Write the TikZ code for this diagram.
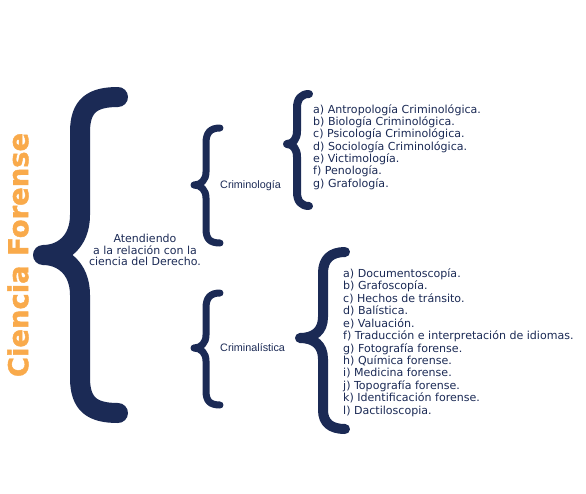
\documentclass[tikz,border=0pt]{standalone}
\usepackage{fontspec}
\setmainfont{DejaVu Sans}
\newfontfamily\arialfont{Liberation Sans}
\newfontfamily\titlefont{DejaVu Sans}[BoldFeatures={FakeBold=1.6}]
\definecolor{navy}{HTML}{1B2A55}
\definecolor{forenseorange}{HTML}{F9AA4B}
\tikzset{
  bracepath/.style={draw=navy, line cap=round, line join=round},
  listtext/.style={text=navy, font=\fontsize{11.05}{13}\selectfont, inner sep=0pt, anchor=base west},
  branchtext/.style={text=navy, font=\arialfont\fontsize{10.8}{13}\selectfont, inner sep=0pt, anchor=west},
}
\begin{document}
\begin{tikzpicture}[x=1pt,y=-1pt]
\useasboundingbox (0,0) rectangle (586,493);

% title
\node[rotate=90, text=forenseorange, inner sep=0pt,
      font=\titlefont\bfseries\fontsize{27.4}{30}\selectfont] (title) at (18,255) {Ciencia Forense};

% main brace
\draw[bracepath, line width=20pt]
  (118,97) .. controls (93,97) and (80,105) .. (80,132) -- (80,215)
  .. controls (80,242) and (62,255) .. (43,255)
  .. controls (62,255) and (80,268) .. (80,295) -- (80,378)
  .. controls (80,405) and (93,413) .. (118,413);

\node[text=navy, font=\fontsize{11}{11.7}\selectfont, align=center, inner sep=0pt] (relacion) at (145,250)
  {Atendiendo\\a la relación con la\\ciencia del Derecho.};

% branch braces
\draw[bracepath, line width=7pt]
  (220,128) .. controls (210,128) and (206,133) .. (206,143) -- (206,172)
  .. controls (206,180) and (201,185) .. (194,185)
  .. controls (201,185) and (206,190) .. (206,198) -- (206,229)
  .. controls (206,239) and (210,243) .. (220,243);
\node[branchtext] (criminologia) at (220,186) {Criminología};

\draw[bracepath, line width=7pt]
  (220,293) .. controls (210,293) and (206,298) .. (206,308) -- (206,335)
  .. controls (206,343) and (201,348) .. (194,348)
  .. controls (201,348) and (206,353) .. (206,361) -- (206,391)
  .. controls (206,401) and (210,405) .. (220,405);
\node[branchtext] (criminalistica) at (220,348) {Criminalística};

% Criminología list
\draw[bracepath, line width=8pt]
  (309,94) .. controls (301,94) and (297,99) .. (297,108) -- (297,131)
  .. controls (297,139) and (293,144) .. (287,144)
  .. controls (293,144) and (297,149) .. (297,157) -- (297,192)
  .. controls (297,201) and (301,206) .. (309,206);
\foreach \item [count=\i from 0] in {
  a) Antropología Criminológica.,
  b) Biología Criminológica.,
  c) Psicología Criminológica.,
  d) Sociología Criminológica.,
  e) Victimología.,
  f) Penología.,
  g) Grafología.}
  \node[listtext] (criminologia-\i) at (313,113.3+12.3*\i) {\item};

% Criminalística list
\draw[bracepath, line width=10pt]
  (345,252) .. controls (331,252) and (323,259) .. (323,273) -- (323,317)
  .. controls (323,331) and (314,338) .. (300,338)
  .. controls (314,338) and (323,345) .. (323,359) -- (323,410)
  .. controls (323,423) and (331,429) .. (345,429);
\foreach \item [count=\i from 0] in {
  a) Documentoscopía.,
  b) Grafoscopía.,
  c) Hechos de tránsito.,
  d) Balística.,
  e) Valuación.,
  f) Traducción e interpretación de idiomas.,
  g) Fotografía forense.,
  h) Química forense.,
  i) Medicina forense.,
  j) Topografía forense.,
  k) Identificación forense.,
  l) Dactiloscopia.}
  \node[listtext] (criminalistica-\i) at (343,277.3+12.45*\i) {\item};
\end{tikzpicture}
\end{document}
